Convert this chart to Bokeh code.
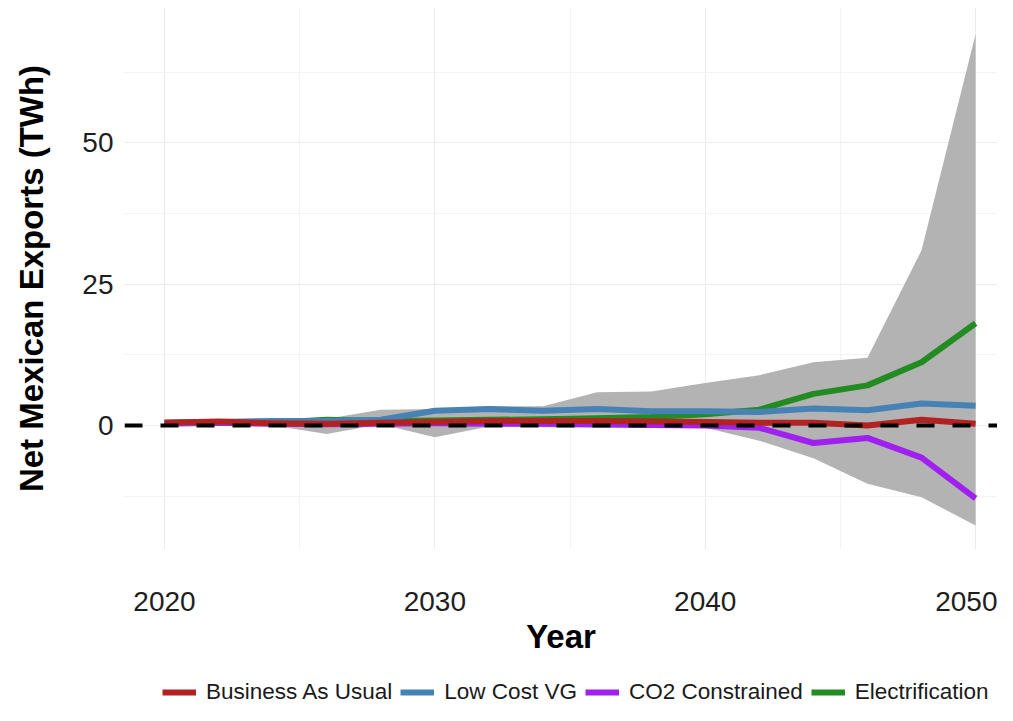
from bokeh.plotting import figure
from bokeh.models import Span, Legend, LegendItem, FixedTicker
from bokeh.layouts import column
from bokeh.embed import file_html
from bokeh.resources import INLINE

# ---- data ----
years = [2020, 2022, 2024, 2026, 2028, 2030, 2032, 2034, 2036, 2038, 2040, 2042, 2044, 2046, 2048, 2050]
business_as_usual = [0.5, 0.7, 0.4, 0.3, 0.5, 0.6, 0.8, 0.8, 0.8, 0.7, 0.6, 0.5, 0.5, 0.0, 1.0, 0.3]
low_cost_vg = [0.5, 0.6, 0.8, 0.8, 1.0, 2.6, 2.9, 2.6, 2.9, 2.5, 2.5, 2.4, 3.0, 2.7, 3.9, 3.5]
co2_constrained = [0.3, 0.5, 0.3, 0.2, 0.3, 0.4, 0.3, 0.3, 0.2, 0.1, 0.0, -0.4, -3.1, -2.2, -5.7, -12.9]
electrification = [0.5, 0.6, 0.5, 1.0, 0.8, 0.9, 1.0, 1.1, 1.3, 1.5, 2.0, 2.8, 5.6, 7.1, 11.2, 18.1]
band_upper = [0.9, 1.1, 0.8, 1.2, 2.8, 2.9, 3.4, 3.4, 5.9, 6.0, 7.5, 8.9, 11.2, 12.0, 31.0, 69.3]
band_lower = [0.2, 0.2, 0.0, -1.5, 0.2, -2.1, -0.2, -0.3, -0.4, -0.4, -0.4, -2.7, -5.8, -10.3, -12.7, -17.7]

series_labels = ["Business As Usual", "Low Cost VG", "CO2 Constrained", "Electrification"]
series_colors = ["#B22222", "#4682B4", "#A020F0", "#228B22"]

x_ticks = [2020, 2030, 2040, 2050]
x_minor = [2025, 2035, 2045]
y_ticks = [0, 25, 50]
y_minor = [-12.5, 12.5, 37.5, 62.5]

FONT = "Liberation Sans"
W = 997
H_PLOT = 676
H_LEG = 29
FRAME_LEFT = 124

p = figure(width=W, height=H_PLOT, output_backend="svg", toolbar_location=None,
           x_range=(2018.52, 2050.81), y_range=(-21.95, 73.98),
           min_border_left=FRAME_LEFT, min_border_right=0, min_border_top=7, min_border_bottom=127,
           x_axis_label="Year", y_axis_label="Net Mexican Exports (TWh)")
p.outline_line_color = None
p.background_fill_color = "white"
p.border_fill_color = "white"

p.xaxis.ticker = FixedTicker(ticks=x_ticks, minor_ticks=x_minor)
p.yaxis.ticker = FixedTicker(ticks=y_ticks, minor_ticks=y_minor)

for ax in (p.xaxis, p.yaxis):
    ax.axis_line_color = None
    ax.major_tick_line_color = None
    ax.minor_tick_line_color = None
    ax.major_tick_out = 0
    ax.major_tick_in = 0
    ax.minor_tick_out = 0
    ax.minor_tick_in = 0
    ax.major_label_text_font = FONT
    ax.major_label_text_font_size = "28px"
    ax.major_label_text_color = "#1E1E1E"
    ax.axis_label_text_font = FONT
    ax.axis_label_text_font_size = "33px"
    ax.axis_label_text_font_style = "bold"
    ax.axis_label_text_color = "black"

p.xaxis.major_label_standoff = 42
p.xaxis.axis_label_standoff = 4
p.yaxis.major_label_standoff = 11
p.yaxis.axis_label_standoff = 29

for g in (p.xgrid, p.ygrid):
    g.grid_line_color = "#EBEBEB"
    g.grid_line_width = 1
    g.minor_grid_line_color = "#F3F3F3"
    g.minor_grid_line_width = 1

# ribbon
p.varea(x=years, y1=band_lower, y2=band_upper, fill_color="#B3B3B3")

# lines (draw order so overlaps resemble the reference)
kw = dict(line_width=6, line_join="round")
p.line(years, electrification, line_color=series_colors[3], **kw)
p.line(years, co2_constrained, line_color=series_colors[2], **kw)
p.line(years, low_cost_vg, line_color=series_colors[1], **kw)
p.line(years, business_as_usual, line_color=series_colors[0], **kw)

zero = Span(location=0, dimension="width", line_color="black", line_width=4, line_dash="18 18")
p.add_layout(zero)

# ---- legend strip below the plot ----
lf = figure(width=W, height=H_LEG, output_backend="svg", toolbar_location=None,
            x_axis_type=None, y_axis_type=None, x_range=(0, 1), y_range=(0, 1),
            min_border_left=FRAME_LEFT, min_border_right=0, min_border_top=0, min_border_bottom=0)
lf.outline_line_color = None
lf.background_fill_color = "white"
lf.border_fill_color = "white"

items = []
for lab, col in zip(series_labels, series_colors):
    # off-screen proxy line: only used to draw the legend key
    r = lf.line(x=[-10, -9], y=[-10, -10], line_color=col, line_width=6)
    items.append(LegendItem(label=lab, renderers=[r]))

legend = Legend(items=items, orientation="horizontal", location=(162 - FRAME_LEFT, 0),
                label_text_font=FONT, label_text_font_size="22.5px", label_text_color="#1A1A1A",
                glyph_width=34, glyph_height=20, label_standoff=10, spacing=8, padding=0,
                margin=0, border_line_color=None, background_fill_alpha=0)
lf.add_layout(legend, "center")

layout = column(p, lf, spacing=0)
open("out.html", "w").write(file_html(layout, INLINE))
